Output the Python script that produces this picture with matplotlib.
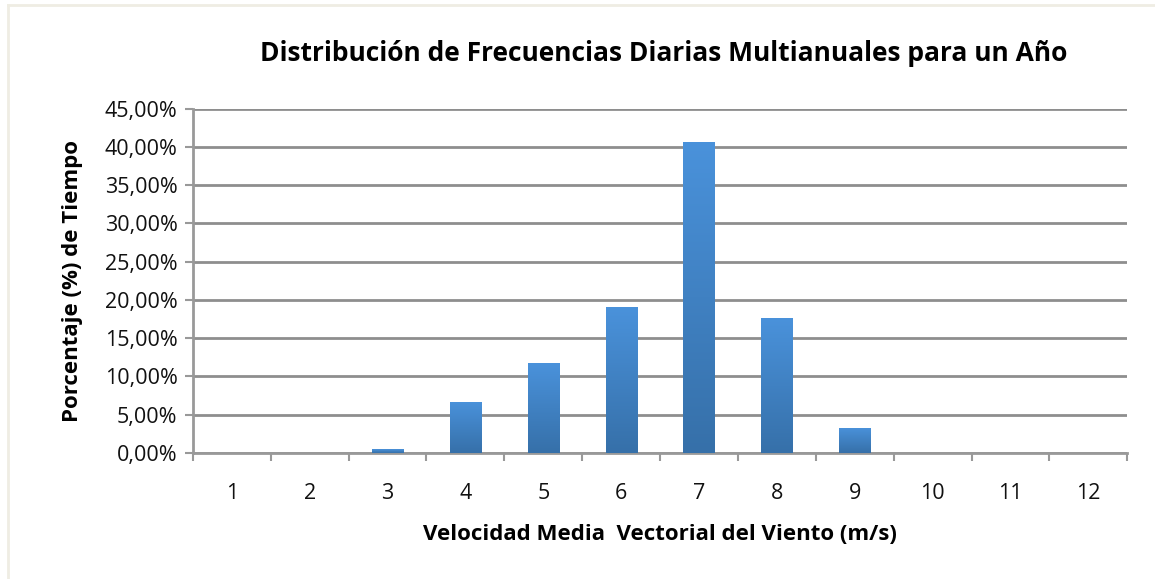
import numpy as np
import matplotlib
matplotlib.use("Agg")
import matplotlib.pyplot as plt
from matplotlib.lines import Line2D

# data (% of time per wind speed class)
speeds = [1, 2, 3, 4, 5, 6, 7, 8, 9, 10, 11, 12]
percent = [0.0, 0.0, 0.5, 6.7, 11.7, 19.1, 40.7, 17.6, 3.3, 0.0, 0.0, 0.0]
yticks = [0, 5, 10, 15, 20, 25, 30, 35, 40, 45]

TITLE = 'Distribución de Frecuencias Diarias Multianuales para un Año'
XLABEL = 'Velocidad Media  Vectorial del Viento (m/s)'
YLABEL = 'Porcentaje (%) de Tiempo'

plt.rcParams['font.family'] = ['Open Sans', 'DejaVu Sans']

fig = plt.figure(figsize=(11.55, 5.79), dpi=100)
ax = fig.add_axes([0.167, 0.218, 0.809, 0.594])

# faint frame of the chart area
fig.add_artist(Line2D([0.007, 1.0], [0.991, 0.991], transform=fig.transFigure,
                      color='#efede3', lw=2))
fig.add_artist(Line2D([0.007, 0.007], [0.0, 0.991], transform=fig.transFigure,
                      color='#efede3', lw=2))

bars = ax.bar(speeds, percent, width=0.4, color='#4589cf', zorder=3)

# vertical gradient on each bar, light top -> dark bottom
grad = np.linspace(0, 1, 256).reshape(-1, 1)
cmap = matplotlib.colors.LinearSegmentedColormap.from_list('b', ['#3670a9', '#4a92db'])
for b in bars:
    if b.get_height() <= 0:
        continue
    x0, y0 = b.get_x(), b.get_y()
    im = ax.imshow(grad, cmap=cmap, origin='lower', aspect='auto',
                   extent=[x0, x0 + b.get_width(), y0, y0 + b.get_height()], zorder=4)
    im.set_clip_path(b)

ax.set_xlim(0.5, 12.5)
ax.set_ylim(0, 45)
ax.set_yticks(yticks)
ax.set_yticklabels(['%d,00%%' % v for v in yticks])
ax.set_xticks(speeds)
ax.set_xticklabels([str(s) for s in speeds])
ax.set_xticks(np.arange(0.5, 12.6, 1), minor=True)
ax.tick_params(axis='x', which='major', length=0, pad=22, labelsize=15.5, colors='#111111')
ax.tick_params(axis='x', which='minor', length=6, width=1.5, color='#999999', direction='out')
ax.tick_params(axis='y', length=6, width=1.5, color='#999999', pad=5, labelsize=15.5,
               labelcolor='#111111')

ax.grid(axis='y', color='#8e8e8e', lw=2, zorder=1)
for s in ['top', 'right']:
    ax.spines[s].set_visible(False)
for s in ['left', 'bottom']:
    ax.spines[s].set_color('#999999')
    ax.spines[s].set_linewidth(2)

fig.text(0.575, 0.907, TITLE, ha='center', va='center', fontsize=19, fontweight='bold')
ax.set_xlabel(XLABEL, fontsize=16, fontweight='bold', labelpad=14)
ax.set_ylabel(YLABEL, fontsize=16, fontweight='bold', labelpad=16)

fig.savefig('out.png', dpi=100, facecolor='white')
